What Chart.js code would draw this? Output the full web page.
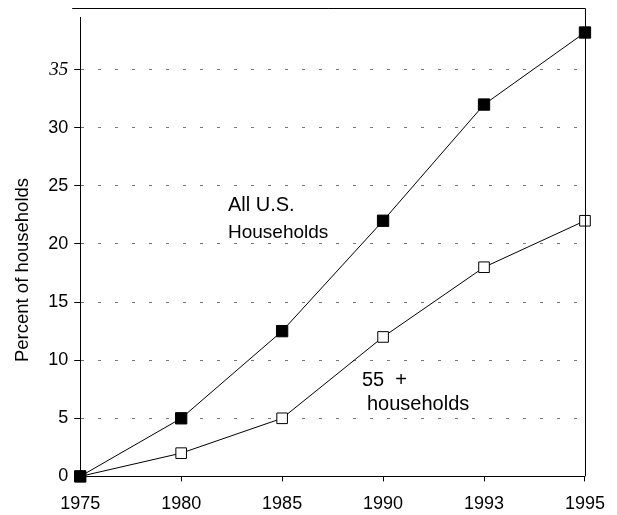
<!DOCTYPE html>
<html>
<head>
<meta charset="utf-8">
<script src="https://cdn.jsdelivr.net/npm/chart.js@4"></script>
<style>
  html, body { margin: 0; padding: 0; background: #fff; }
  #wrap { width: 617px; height: 515px; }
</style>
</head>
<body>
<div id="wrap"><canvas id="householdChart"></canvas></div>
<script>
// values
const years = ['1975', '1980', '1985', '1990', '1993', '1995'];
const allHouseholds = [0, 5, 12.5, 22, 32, 38.2];
const households55 = [0, 2, 5, 12, 18, 22];
const yTicks = [0, 5, 10, 15, 20, 25, 30, 35];

const font = 'Liberation Sans, Arial, sans-serif';

// frame on top and right, the axis title (sits a bit low in the original) and the labels
const framePlugin = {
    id: 'frame',
    afterDraw(chart) {
        const { ctx, chartArea } = chart;
        ctx.save();
        ctx.strokeStyle = '#000';
        ctx.lineWidth = 1;
        ctx.beginPath();
        ctx.moveTo(chartArea.left - 8, 8.5);
        ctx.lineTo(chartArea.right + 0.5, 8.5);
        ctx.lineTo(chartArea.right + 0.5, chartArea.bottom);
        ctx.stroke();

        ctx.fillStyle = '#000';
        ctx.save();
        ctx.translate(23, 270);
        ctx.rotate(-Math.PI / 2);
        ctx.textAlign = 'center';
        ctx.textBaseline = 'middle';
        ctx.font = '18.5px ' + font;
        ctx.fillText('Percent of households', 0, 0);
        ctx.restore();

        ctx.textBaseline = 'middle';
        ctx.font = '20px ' + font;
        ctx.fillText('All U.S.', 228, 205);
        ctx.font = '19px ' + font;
        ctx.fillText('Households', 228, 233);
        ctx.font = '20px ' + font;
        ctx.fillText('55  +', 362, 380);
        ctx.fillText('households', 367, 404);
        ctx.restore();
    }
};

const ctx = document.getElementById('householdChart').getContext('2d');
const householdChart = new Chart(ctx, {
    type: 'line',
    data: {
        labels: years,
        datasets: [{
            label: 'All U.S. Households',
            data: allHouseholds,
            borderColor: '#000',
            borderWidth: 1,
            backgroundColor: '#000',
            pointStyle: 'rect',
            pointRadius: 8,
            pointBorderWidth: 1,
            pointBorderColor: '#000',
            pointBackgroundColor: '#000',
            tension: 0,
            clip: false
        }, {
            label: '55+ households',
            data: households55,
            borderColor: '#000',
            borderWidth: 1,
            backgroundColor: '#fff',
            pointStyle: 'rect',
            pointRadius: 7.5,
            pointBorderWidth: 1,
            pointBorderColor: '#000',
            pointBackgroundColor: '#fff',
            tension: 0,
            clip: false
        }]
    },
    options: {
        responsive: true,
        maintainAspectRatio: false,
        animation: false,
        layout: {
            padding: { top: 0, right: 31, left: 10, bottom: -12 }
        },
        plugins: {
            legend: { display: false },
            tooltip: { enabled: false }
        },
        scales: {
            x: {
                offset: false,
                grid: {
                    drawOnChartArea: false,
                    tickLength: 5,
                    tickColor: '#000'
                },
                border: { color: '#000', width: 1 },
                ticks: {
                    color: '#000',
                    font: { family: font, size: 18 },
                    padding: 12,
                    maxRotation: 0
                }
            },
            y: {
                min: 0,
                max: 39.5,
                afterBuildTicks: axis => {
                    axis.ticks = yTicks.map(v => ({ value: v }));
                },
                grid: {
                    color: '#777',
                    lineWidth: 1,
                    tickLength: 6,
                    tickColor: '#000'
                },
                border: { color: '#000', width: 1, dash: [3, 14] },
                ticks: {
                    color: '#000',
                    padding: 6,
                    font: c => c.tick && c.tick.value === 35
                        ? { family: 'Liberation Serif, Times New Roman, serif', size: 19, style: 'italic' }
                        : { family: font, size: 18 }
                },
                title: {
                    // keeps the room; the visible title is drawn by the plugin
                    display: true,
                    text: 'Percent of households',
                    color: 'rgba(0,0,0,0)',
                    font: { family: font, size: 18.5 },
                    padding: { top: 2, bottom: 8 }
                }
            }
        }
    },
    plugins: [framePlugin]
});
</script>
</body>
</html>
